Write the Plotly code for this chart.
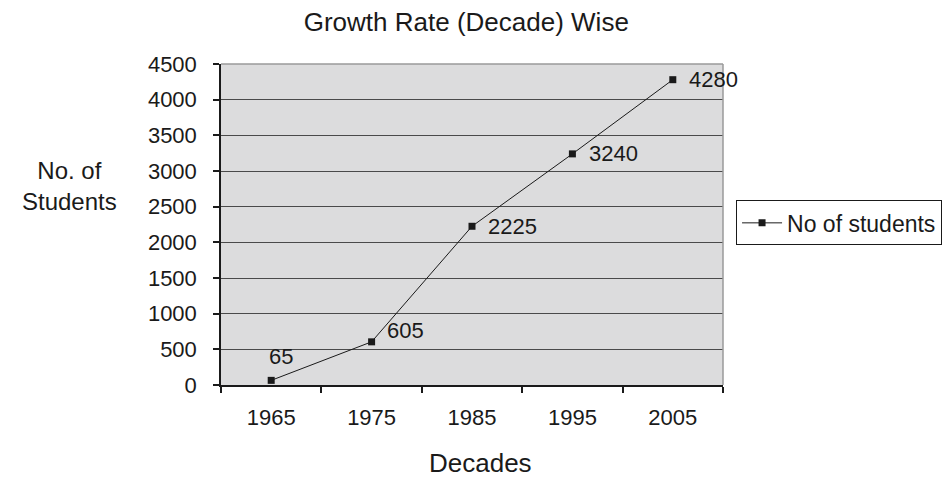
import plotly.graph_objects as go

# Decade-wise student counts
decades = [1965, 1975, 1985, 1995, 2005]
students = [65, 605, 2225, 3240, 4280]
y_ticks = list(range(0, 5000, 500))

# pixel offsets for each value label relative to its marker
label_dx = [10, 13, 14, 15, 14]
label_dy = [24, 11, 0, 0, 0]
label_anchor = ["center", "left", "left", "left", "left"]

FONT = "Liberation Sans, Arial, sans-serif"
INK = "#1a1a1a"

fig = go.Figure()
fig.add_trace(go.Scatter(
    x=decades,
    y=students,
    mode="lines+markers",
    name="No of students",
    line=dict(color=INK, width=1),
    marker=dict(symbol="square", size=7, color=INK),
    cliponaxis=False,
))

for x, y, dx, dy, anc in zip(decades, students, label_dx, label_dy, label_anchor):
    fig.add_annotation(x=x, y=y, text=str(y), showarrow=False,
                       xanchor=anc, yanchor="middle", xshift=dx, yshift=dy,
                       font=dict(size=22, color=INK))

# light frame along top and right of the plot area
fig.add_shape(type="line", xref="paper", yref="paper", x0=0, x1=1, y0=1, y1=1,
              line=dict(color="#9a9a9a", width=1.5), layer="above")
fig.add_shape(type="line", xref="paper", yref="paper", x0=1, x1=1, y0=0, y1=1,
              line=dict(color="#9a9a9a", width=1.5), layer="above")

fig.update_layout(
    width=942,
    height=478,
    margin=dict(l=221, r=219, t=64, b=93, autoexpand=False),
    paper_bgcolor="white",
    plot_bgcolor="#dcdcdd",
    font=dict(family=FONT, color=INK),
    title=dict(text="Growth Rate (Decade) Wise", x=0.495, xanchor="center",
               y=0.955, yanchor="middle", font=dict(size=26)),
    showlegend=True,
    legend=dict(x=1.026, y=0.505, xanchor="left", yanchor="middle",
                bgcolor="white", bordercolor=INK, borderwidth=1,
                font=dict(size=23), itemwidth=40),
    xaxis=dict(
        range=[1960, 2010],
        tickvals=decades,
        ticktext=[str(d) for d in decades],
        ticks="",
        ticklabelstandoff=12,
        showgrid=False,
        zeroline=False,
        showline=True,
        linecolor=INK,
        linewidth=1.5,
        tickfont=dict(size=22),
        minor=dict(tick0=1960, dtick=10, ticks="outside", ticklen=6,
                   tickcolor=INK, tickwidth=1.5, showgrid=False),
        fixedrange=True,
    ),
    yaxis=dict(
        range=[0, 4500],
        tickvals=y_ticks,
        ticks="outside",
        ticklen=6,
        tickcolor=INK,
        tickwidth=1.5,
        ticklabelstandoff=12,
        showgrid=True,
        gridcolor="#4a4a4a",
        gridwidth=1.2,
        zeroline=False,
        showline=True,
        linecolor=INK,
        linewidth=1.5,
        tickfont=dict(size=22),
        fixedrange=True,
    ),
)

fig.add_annotation(text="No. of<br>Students", xref="paper", yref="paper",
                   x=-0.302, y=0.62, xanchor="center", yanchor="middle",
                   showarrow=False, font=dict(size=24))
fig.add_annotation(text="Decades", xref="paper", yref="paper",
                   x=0.516, y=-0.243, xanchor="center", yanchor="middle",
                   showarrow=False, font=dict(size=26))

fig.write_html("out.html")
